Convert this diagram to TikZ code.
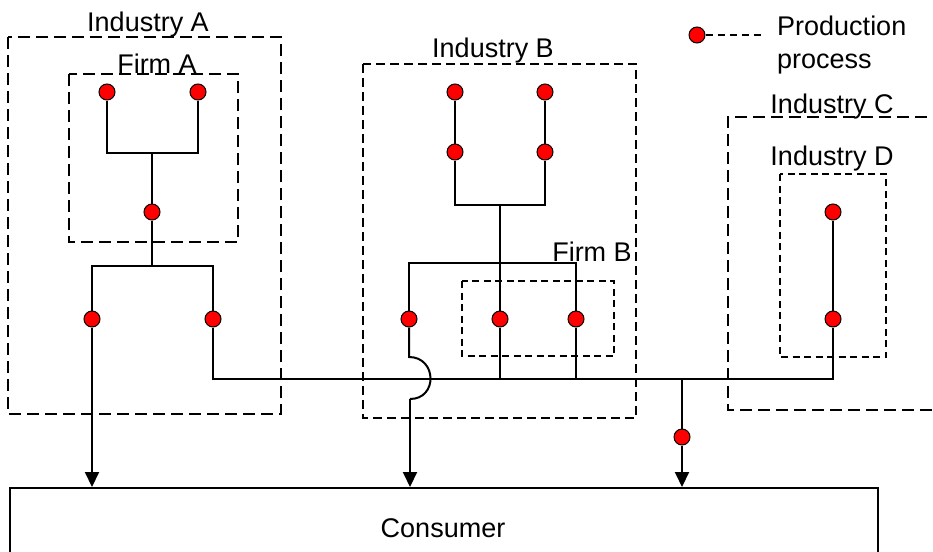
\documentclass[tikz,border=0pt]{standalone}
\usepackage{fontspec}
\setmainfont{Liberation Sans}
\usetikzlibrary{arrows.meta}
\begin{document}
\begin{tikzpicture}[x=1pt,y=-1pt,
  proc/.style={circle,draw=black,fill=red,line width=1pt,minimum size=16pt,inner sep=0pt},
  flow/.style={line width=2pt},
  arr/.style={flow,-{Triangle[length=15pt,width=14pt]}},
  outerbox/.style={line width=1.8pt,dash pattern=on 12pt off 6pt},
  midbox/.style={line width=1.8pt,dash pattern=on 9pt off 5pt},
  innerbox/.style={line width=1.8pt,dash pattern=on 7pt off 4.5pt},
  legline/.style={line width=1.4pt,dash pattern=on 7pt off 5pt},
  lbl/.style={font=\fontsize{27}{32}\selectfont,inner sep=0pt,anchor=base}]
\useasboundingbox (0,0) rectangle (933,551);

% industry and firm boundaries
\draw[outerbox] (8,37) rectangle (281,414);
\draw[outerbox] (69,74) rectangle (238,242);
\draw[midbox] (363,64) rectangle (636,418);
\draw[innerbox] (462,281) rectangle (614,356);
\draw[outerbox] (945,117) -| (728,410) -- (945,410);
\draw[innerbox] (780,174) rectangle (886,357);

% labels
\node[lbl] (indA) at (148,32) {Industry A};
\node[lbl] (firmA) at (157,74) {Firm A};
\node[lbl] (indB) at (493,57) {Industry B};
\node[lbl] (firmB) at (592,261) {Firm B};
\node[lbl] (indC) at (832,113) {Industry C};
\node[lbl] (indD) at (832,165) {Industry D};

% consumer
\node[draw,line width=2pt,anchor=north west,minimum width=868pt,minimum height=120pt,inner sep=0pt] (cons) at (9,487) {};
\node[lbl] (consL) at (443,537) {Consumer};

% legend
\node[proc] (leg) at (697,35) {};
\coordinate (legE) at (763,35);
\draw[legline] (leg) -- (legE);
\node[lbl,anchor=base west] (legT1) at (777,36) {Production};
\node[lbl,anchor=base west] (legT2) at (777,68) {process};

% production processes
\node[proc] (a1) at (107,92) {};
\node[proc] (a2) at (198,92) {};
\node[proc] (a3) at (152,212) {};
\node[proc] (a4) at (92,319) {};
\node[proc] (a5) at (213,319) {};
\node[proc] (b1) at (455,92) {};
\node[proc] (b2) at (545,92) {};
\node[proc] (b3) at (455,152) {};
\node[proc] (b4) at (545,152) {};
\node[proc] (b5) at (409,319) {};
\node[proc] (b6) at (500,319) {};
\node[proc] (b7) at (576,319) {};
\node[proc] (d1) at (833,212) {};
\node[proc] (d2) at (833,319) {};
\node[proc] (c1) at (682,437) {};

% junctions
\coordinate (ja) at (152,153);
\coordinate (jA) at (152,266);
\coordinate (jb) at (500,205);
\coordinate (jB) at (500,263);
\coordinate (bus) at (682,379);
\coordinate (hopT) at (409,357);
\coordinate (hopB) at (410,399);

% industry A flows
\draw[flow] (a1) |- (ja) -| (a2);
\draw[flow] (ja) -- (a3);
\draw[flow] (a3) -- (jA);
\draw[flow] (a4) |- (jA) -| (a5);
\draw[arr] (a4) -- (a4 |- cons.north);

% industry B flows
\draw[flow] (b1) -- (b3);
\draw[flow] (b2) -- (b4);
\draw[flow] (b3) |- (jb) -| (b4);
\draw[flow] (jb) -- (b6);
\draw[flow] (b5) |- (jB) -| (b7);
\draw[flow] (b5) -- (hopT) .. controls +(28,0) and +(28,0) .. (hopB);
\draw[arr] (hopB) -- (hopB |- cons.north);

% common bus to the consumer
\draw[flow] (a5) |- (bus) -| (d2);
\draw[flow] (b6) -- (b6 |- bus);
\draw[flow] (b7) -- (b7 |- bus);
\draw[flow] (d1) -- (d2);
\draw[flow] (bus) -- (c1);
\draw[arr] (c1) -- (c1 |- cons.north);
\end{tikzpicture}
\end{document}
